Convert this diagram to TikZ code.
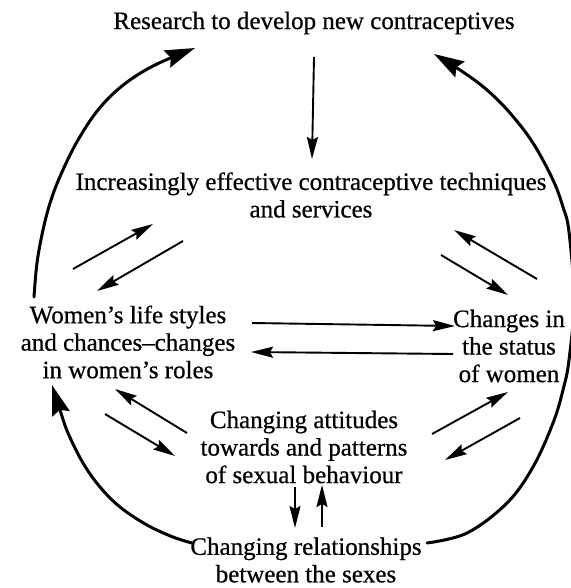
\documentclass[tikz,border=0pt]{standalone}
\usepackage{fontspec}
\setmainfont{Liberation Serif}[FakeBold=0.6]
\usetikzlibrary{arrows.meta}
\begin{document}
\begin{tikzpicture}[x=1pt,y=-1pt,
  txt/.style={font=\fontsize{25}{27.5}\selectfont, align=center, inner sep=0pt},
  small/.style={line width=1.9pt, -{Stealth[length=22pt,width=11pt,inset=3pt]}},
  big/.style={line width=3pt, line cap=round, -{Stealth[length=30pt,width=18pt,inset=4pt]}}]
\useasboundingbox (0,0) rectangle (570,588);
% nodes
\node[txt] (R) at (314,23) {Research to develop new contraceptives};
\node[txt] (I) at (311,195) {Increasingly effective contraceptive techniques\\and services};
\node[txt] (W) at (128,342) {Women’s life styles\\and chances–changes\\in women’s roles};
\node[txt] (C) at (509,346) {Changes in\\the status\\of women};
\node[txt] (A) at (304,447) {Changing attitudes\\towards and patterns\\of sexual behaviour};
\node[txt] (S) at (306,560) {Changing relationships\\between the sexes};
% connector end points
\coordinate (rI) at (314,57);   \coordinate (iR) at (312,159);
\coordinate (wI) at (73,269);   \coordinate (iW) at (153,224);
\coordinate (iW2) at (183,241); \coordinate (wI2) at (97,291);
\coordinate (cI) at (537,279);  \coordinate (iC) at (454,230);
\coordinate (iC2) at (441,255); \coordinate (cI2) at (508,295);
\coordinate (wC) at (252,323);  \coordinate (cW) at (455,326);
\coordinate (cW2) at (453,354); \coordinate (wC2) at (251,352);
\coordinate (aW) at (187,433);  \coordinate (wA) at (115,389);
\coordinate (wA2) at (105,414); \coordinate (aW2) at (175,456);
\coordinate (aC) at (432,434);  \coordinate (cA) at (508,392);
\coordinate (cA2) at (520,418); \coordinate (aC2) at (445,460);
\coordinate (aS) at (295,487);  \coordinate (sA) at (295,528);
\coordinate (sA2) at (322,527); \coordinate (aS2) at (322,485);
\coordinate (wR) at (34,297);   \coordinate (rW) at (195,48);
\coordinate (sW) at (192,543);  \coordinate (wS) at (52,385);
\coordinate (sR) at (427,543);  \coordinate (rS) at (434,54);
% straight connectors
\draw[small] (rI) -- (iR);
\draw[small] (wI) -- (iW);
\draw[small] (iW2) -- (wI2);
\draw[small] (cI) -- (iC);
\draw[small] (iC2) -- (cI2);
\draw[small] (wC) -- (cW);
\draw[small] (cW2) -- (wC2);
\draw[small] (aW) -- (wA);
\draw[small] (wA2) -- (aW2);
\draw[small] (aC) -- (cA);
\draw[small] (cA2) -- (aC2);
\draw[small] (aS) -- (sA);
\draw[small] (sA2) -- (aS2);
% big arcs
\draw[big] plot[smooth, tension=0.6] coordinates {(wR) (37,263) (43,230) (51,200) (62,172) (78,140) (98,110) (122,86) (153,66) (rW)};
\draw[big] plot[smooth, tension=0.6] coordinates {(sW) (173,537) (147,525) (120,507) (100,487) (83,463) (68,433) (60,410) (wS)};
\draw[big] plot[smooth, tension=0.6] coordinates {(sR) (467,533) (507,503) (533,467) (553,423) (563,390) (569,360) (574,300) (569,232) (563,207) (553,180) (533,143) (510,113) (487,90) (463,72) (rS)};
\end{tikzpicture}
\end{document}
